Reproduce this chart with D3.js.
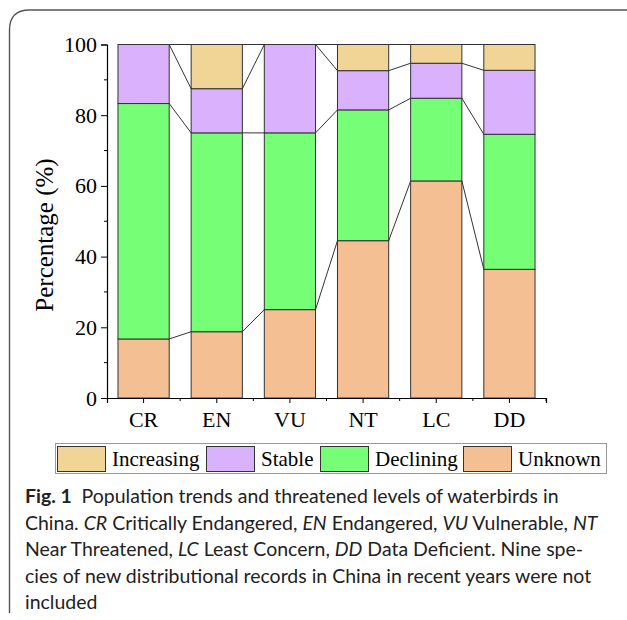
<!DOCTYPE html>
<html lang="en">
<head>
<meta charset="UTF-8"/>
<title>Waterbird population trends</title>
<script src="https://d3js.org/d3.v7.min.js"></script>
<style>
  body { margin: 0; background: #fff; }
</style>
</head>
<body>
<script>
    // Data (percent of species in each threat level)
    var categories = ["CR", "EN", "VU", "NT", "LC", "DD"];
    var unknown    = [16.7, 18.75, 25, 44.5, 61.4, 36.4];
    var declining  = [66.6, 56.25, 50, 37.0, 23.4, 38.2];
    var stable     = [16.7, 12.5, 25, 11.1, 9.9, 18.1];
    var increasing = [0, 12.5, 0, 7.4, 5.3, 7.3];
    var seriesNames = ["Increasing", "Stable", "Declining", "Unknown"];
    var yTicks = [0, 20, 40, 60, 80, 100];

    var w = 627;
    var h = 620;
    var serif = "'Liberation Serif', 'Times New Roman', serif";

    var colour = {
        Increasing: "#f1d597",
        Stable: "#d9b1fc",
        Declining: "#77fe77",
        Unknown: "#f5bf94"
    };

    // build rows for the stack layout
    var rows = categories.map(function(c, i) {
        return { cat: c, Unknown: unknown[i], Declining: declining[i], Stable: stable[i], Increasing: increasing[i] };
    });
    var stacked = d3.stack().keys(["Unknown", "Declining", "Stable", "Increasing"])(rows);

    var svg = d3.select("body")
        .append("svg")
        .attr("width", w)
        .attr("height", h);

    // figure frame (rounded top-left corner)
    svg.append("path")
        .attr("d", "M9.5,613 L9.5,30 Q9.5,10 29.5,10 L627,10")
        .attr("fill", "none")
        .attr("stroke", "#555")
        .attr("stroke-width", 1.4);

    // scales
    var x = d3.scaleBand()
        .domain(categories)
        .range([107, 546])
        .paddingInner(0.3)
        .paddingOuter(0.15);
    var y = d3.scaleLinear().domain([0, 100]).range([398, 44.5]);
    var step = x.step();
    var bw = x.bandwidth();

    // bars
    var groups = svg.selectAll("g.series")
        .data(stacked)
        .enter()
        .append("g")
        .attr("class", "series")
        .attr("fill", function(d) { return colour[d.key]; });

    groups.selectAll("rect")
        .data(function(d) { return d; })
        .enter()
        .append("rect")
        .attr("x", function(d) { return x(d.data.cat); })
        .attr("y", function(d) { return y(d[1]); })
        .attr("width", bw)
        .attr("height", function(d) { return y(d[0]) - y(d[1]); })
        .attr("stroke", "#333")
        .attr("stroke-width", 1);

    // connecting lines between the segment tops of neighbouring bars
    stacked.forEach(function(s) {
        for (var i = 0; i < s.length - 1; i++) {
            svg.append("line")
                .attr("x1", x(categories[i]) + bw)
                .attr("y1", y(s[i][1]))
                .attr("x2", x(categories[i + 1]))
                .attr("y2", y(s[i + 1][1]))
                .attr("stroke", "#333")
                .attr("stroke-width", 1);
        }
    });

    // y axis
    var yAxis = d3.axisLeft(y).tickValues(yTicks).tickSize(6).tickPadding(4);
    var gy = svg.append("g").attr("transform", "translate(107,0)").call(yAxis);
    gy.selectAll("text")
        .attr("font-family", serif)
        .attr("font-size", "22px")
        .attr("fill", "#000");
    // minor y ticks
    gy.selectAll("line.minor")
        .data([10, 30, 50, 70, 90])
        .enter()
        .append("line")
        .attr("class", "minor")
        .attr("x1", -3).attr("x2", 0)
        .attr("y1", function(d) { return y(d); })
        .attr("y2", function(d) { return y(d); })
        .attr("stroke", "#000");

    // x axis
    var xAxis = d3.axisBottom(x).tickSize(5).tickPadding(8);
    var gx = svg.append("g").attr("transform", "translate(0,398)").call(xAxis);
    gx.selectAll("text")
        .attr("font-family", serif)
        .attr("font-size", "22px")
        .attr("fill", "#000");
    gx.selectAll("line.minor")
        .data(d3.range(1, categories.length + 1))
        .enter()
        .append("line")
        .attr("class", "minor")
        .attr("x1", function(k) { return 107 + k * step; })
        .attr("x2", function(k) { return 107 + k * step; })
        .attr("y1", 0).attr("y2", 3)
        .attr("stroke", "#000");
    svg.selectAll(".domain").attr("stroke-width", 1.2);

    // y axis title
    svg.append("text")
        .attr("transform", "translate(53,235) rotate(-90)")
        .attr("text-anchor", "middle")
        .attr("font-family", serif)
        .attr("font-size", "25px")
        .attr("fill", "#000")
        .text("Percentage (%)");

    // legend
    var legend = svg.append("g");
    legend.append("rect")
        .attr("x", 55.5).attr("y", 443.5)
        .attr("width", 551).attr("height", 30)
        .attr("fill", "#fff")
        .attr("stroke", "#999");
    var legX = [57, 206, 320, 463];
    seriesNames.forEach(function(name, i) {
        legend.append("rect")
            .attr("x", legX[i] + 0.5).attr("y", 446.5)
            .attr("width", 48).attr("height", 25)
            .attr("fill", colour[name])
            .attr("stroke", "#333");
        legend.append("text")
            .attr("x", legX[i] + 55).attr("y", 466)
            .attr("font-family", serif)
            .attr("font-size", "21px")
            .attr("fill", "#000")
            .text(name);
    });

    // caption, split in lines as in the figure
    var caption = [
        [["Fig. 1", "b"], ["\u2002Population trends and threatened levels of waterbirds in", ""]],
        [["China. ", ""], ["CR", "i"], [" Critically Endangered, ", ""], ["EN", "i"], [" Endangered, ", ""], ["VU", "i"], [" Vulnerable, ", ""], ["NT", "i"]],
        [["Near Threatened, ", ""], ["LC", "i"], [" Least Concern, ", ""], ["DD", "i"], [" Data Deficient. Nine spe-", ""]],
        [["cies of new distributional records in China in recent years were not", ""]],
        [["included", ""]]
    ];
    var cap = svg.append("g")
        .attr("font-family", "Lato, 'Open Sans', sans-serif")
        .attr("font-size", "20px")
        .attr("fill", "#222");
    caption.forEach(function(line, i) {
        var t = cap.append("text")
            .attr("x", 25)
            .attr("y", 503 + i * 26.5)
            .attr("xml:space", "preserve");
        line.forEach(function(seg) {
            t.append("tspan")
                .attr("font-weight", seg[1] === "b" ? "bold" : null)
                .attr("font-style", seg[1] === "i" ? "italic" : null)
                .text(seg[0]);
        });
    });
    // fit the caption font to the width of the figure's first caption line
    var first = cap.select("text").node().getComputedTextLength();
    cap.attr("font-size", (20 * 534 / first) + "px");
</script>
</body>
</html>
